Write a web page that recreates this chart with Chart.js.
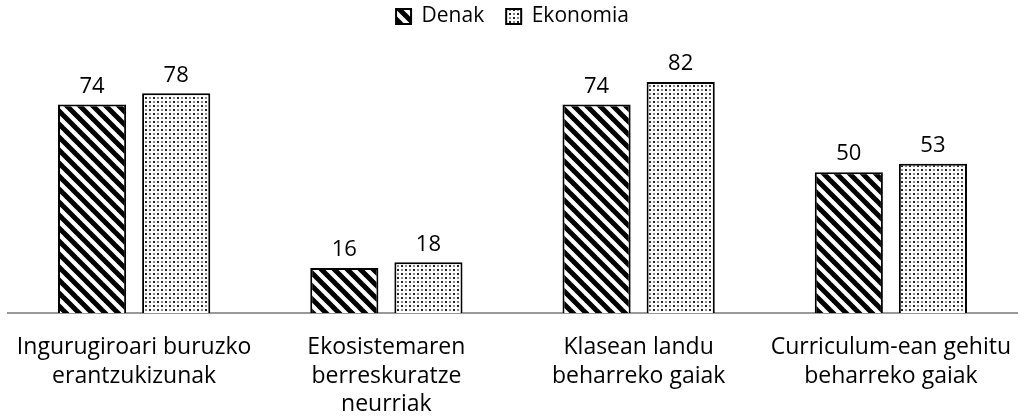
<!DOCTYPE html>
<html>
<head>
<meta charset="utf-8">
<script src="https://cdn.jsdelivr.net/npm/chart.js@4.4.1/dist/chart.umd.min.js"></script>
<style>
  html, body { margin: 0; padding: 0; background: #fff; }
  #wrap { width: 1024px; height: 417px; }
</style>
</head>
<body>
<div id="wrap"><canvas id="chart"></canvas></div>
<script>
// Daten
const kategorien = [
    ["Ingurugiroari buruzko", "erantzukizunak"],
    ["Ekosistemaren", "berreskuratze", "neurriak"],
    ["Klasean landu", "beharreko gaiak"],
    ["Curriculum-ean gehitu", "beharreko gaiak"]
];
const denak = [74, 16, 74, 50];
const ekonomia = [78, 18, 82, 53];

const schrift = '"Open Sans", sans-serif';

// Schraffur-Muster
const streifen = () => {
    const c = document.createElement('canvas');
    c.width = 13; c.height = 13;
    const g = c.getContext('2d');
    g.fillStyle = '#fff';
    g.fillRect(0, 0, 13, 13);
    g.strokeStyle = '#000';
    g.lineWidth = 5;
    for (let o = -13; o <= 13; o += 13) {
        g.beginPath();
        g.moveTo(o - 2, -2);
        g.lineTo(o + 15, 15);
        g.stroke();
    }
    return g.createPattern(c, 'repeat');
};

const punkte = () => {
    const c = document.createElement('canvas');
    c.width = 8; c.height = 8;
    const g = c.getContext('2d');
    g.fillStyle = '#fff';
    g.fillRect(0, 0, 8, 8);
    g.fillStyle = '#222';
    g.fillRect(1, 1, 2, 2);
    g.fillRect(5, 5, 2, 2);
    g.fillStyle = '#888';
    g.fillRect(5, 1, 2, 2);
    g.fillRect(1, 5, 2, 2);
    return g.createPattern(c, 'repeat');
};

// Werte über den Balken
const wertePlugin = {
    id: 'werte',
    afterDatasetsDraw(chart) {
        const ctx = chart.ctx;
        ctx.save();
        ctx.font = '22px ' + schrift;
        ctx.fillStyle = '#000';
        ctx.textAlign = 'center';
        ctx.textBaseline = 'bottom';
        chart.data.datasets.forEach((ds, i) => {
            chart.getDatasetMeta(i).data.forEach((bar, j) => {
                ctx.fillText(ds.data[j], bar.x, bar.y - 7);
            });
        });
        ctx.restore();
    }
};

new Chart(document.getElementById('chart'), {
    type: 'bar',
    data: {
        labels: kategorien,
        datasets: [
            {
                label: 'Denak',
                data: denak,
                backgroundColor: streifen(),
                borderColor: '#000',
                borderWidth: 2
            },
            {
                label: 'Ekonomia',
                data: ekonomia,
                backgroundColor: punkte(),
                borderColor: '#000',
                borderWidth: 2
            }
        ]
    },
    options: {
        responsive: true,
        maintainAspectRatio: false,
        animation: false,
        categoryPercentage: 0.667,
        barPercentage: 0.81,
        layout: { padding: { left: 8, right: 7, top: -16, bottom: 0 } },
        scales: {
            x: {
                grid: { display: false, drawTicks: false },
                border: { display: true, color: '#999', width: 2 },
                ticks: {
                    color: '#000',
                    font: { family: schrift, size: 23, lineHeight: 1.25 },
                    maxRotation: 0,
                    padding: 20
                },
                afterFit: (scale) => {
                    // Achse fest auf Höhe der Vorlage setzen
                    scale.height = 104;
                    scale.paddingLeft = 0;
                    scale.paddingRight = 0;
                }
            },
            y: {
                display: false,
                min: 0,
                max: 98
            }
        },
        plugins: {
            legend: {
                position: 'top',
                labels: {
                    color: '#000',
                    boxWidth: 15,
                    boxHeight: 15,
                    padding: 22,
                    font: { family: schrift, size: 21 }
                }
            },
            tooltip: { enabled: false }
        }
    },
    plugins: [wertePlugin]
});
</script>
</body>
</html>
